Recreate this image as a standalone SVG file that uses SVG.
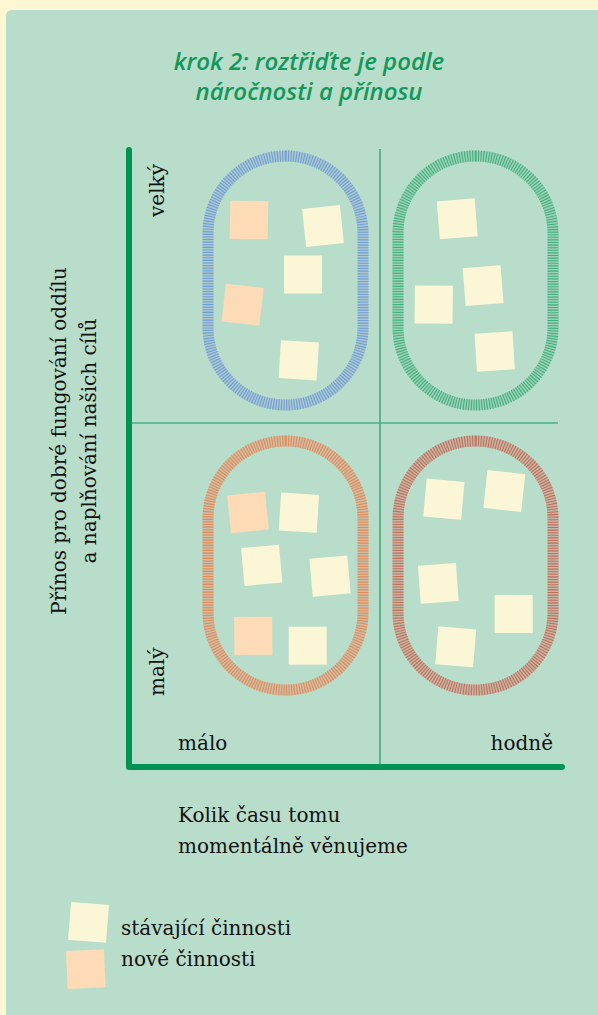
<svg xmlns="http://www.w3.org/2000/svg" width="598" height="1015" viewBox="0 0 598 1015">
<style>
.t{font-family:"DejaVu Serif","Liberation Serif",serif;font-size:20px;fill:#111}
.title{font-family:"Open Sans","Liberation Sans",sans-serif;font-style:italic;font-weight:600;font-size:24px;fill:#12985a;text-anchor:middle}
.c{fill:#fbf7d6}
.p{fill:#fddbb6}
.ring{fill:none;stroke-width:11}
.dash{fill:none;stroke-width:11;stroke-dasharray:1.1 1.5;opacity:0.7}
</style>
<defs>
<rect id="n" x="-19" y="-19" width="38" height="38"/>
</defs>
<rect x="0" y="0" width="598" height="1015" fill="#fdf8d3"/>
<path d="M6,16 Q6,10 12,10 H598 V1015 H6 Z" fill="#b9ddcb"/>
<g id="title">
<text class="title" x="309" y="70">krok 2: roztřiďte je podle</text>
<text class="title" x="309" y="100">náročnosti a přínosu</text>
</g>
<g id="connectors">
<line x1="380" y1="149" x2="380" y2="767" stroke="#2f9f6c" stroke-width="1.3"/>
<line x1="129" y1="423" x2="558" y2="423" stroke="#4bb183" stroke-width="1.6"/>
<path d="M129,150 V767 H562" fill="none" stroke="#009454" stroke-width="6" stroke-linecap="round" stroke-linejoin="round"/>
</g>
<g id="axis-labels">
<text class="t" transform="translate(66,441) rotate(-90)" text-anchor="middle">Přínos pro dobré fungování oddílu</text>
<text class="t" transform="translate(96,441) rotate(-90)" text-anchor="middle">a naplňování našich cílů</text>
<text class="t" transform="translate(164,217) rotate(-90)">velký</text>
<text class="t" transform="translate(164,696) rotate(-90)">malý</text>
<text class="t" x="178" y="750">málo</text>
<text class="t" x="553" y="750" text-anchor="end">hodně</text>
<text class="t" x="178" y="822">Kolik času tomu</text>
<text class="t" x="178" y="853">momentálně věnujeme</text>
</g>
<g id="q-top-left">
<rect class="ring" x="208" y="156" width="155" height="249" rx="77.5" stroke="#aac7d2"/>
<rect class="dash" x="208" y="156" width="155" height="249" rx="77.5" stroke="#5a8dd2"/>
<use href="#n" class="p" transform="translate(249,220) rotate(1)"/>
<use href="#n" class="c" transform="translate(323,226) rotate(-6)"/>
<use href="#n" class="c" transform="translate(303,274.5)"/>
<use href="#n" class="p" transform="translate(242.6,304.7) rotate(6.5)"/>
<use href="#n" class="c" transform="translate(298.8,360.3) rotate(3.5)"/>
</g>
<g id="q-top-right">
<rect class="ring" x="398" y="156" width="155" height="249" rx="77.5" stroke="#9bd2b7"/>
<rect class="dash" x="398" y="156" width="155" height="249" rx="77.5" stroke="#20a066"/>
<use href="#n" class="c" transform="translate(457.2,218.8) rotate(-4.6)"/>
<use href="#n" class="c" transform="translate(483.1,285.6) rotate(-4.6)"/>
<use href="#n" class="c" transform="translate(433.7,304.7) rotate(0.5)"/>
<use href="#n" class="c" transform="translate(494.7,351.5) rotate(-3.6)"/>
</g>
<g id="q-bottom-left">
<rect class="ring" x="208" y="441" width="155" height="249" rx="77.5" stroke="#d0bca4"/>
<rect class="dash" x="208" y="441" width="155" height="249" rx="77.5" stroke="#e5793a"/>
<use href="#n" class="p" transform="translate(248,512.5) rotate(-5.7)"/>
<use href="#n" class="c" transform="translate(298.9,512.7) rotate(3.6)"/>
<use href="#n" class="c" transform="translate(261.7,565.3) rotate(-5.1)"/>
<use href="#n" class="c" transform="translate(330,576.1) rotate(-5.1)"/>
<use href="#n" class="p" transform="translate(253.3,635.8) rotate(-0.5)"/>
<use href="#n" class="c" transform="translate(307.7,645.7)"/>
</g>
<g id="q-bottom-right">
<rect class="ring" x="398" y="441" width="155" height="249" rx="77.5" stroke="#c9b4a4"/>
<rect class="dash" x="398" y="441" width="155" height="249" rx="77.5" stroke="#b8553d"/>
<use href="#n" class="c" transform="translate(443.9,499.2) rotate(5.1)"/>
<use href="#n" class="c" transform="translate(504.3,491) rotate(6.2)"/>
<use href="#n" class="c" transform="translate(438.3,583.4) rotate(-4.1)"/>
<use href="#n" class="c" transform="translate(513.7,614)"/>
<use href="#n" class="c" transform="translate(455.7,646.8) rotate(4.7)"/>
</g>
<g id="legend">
<use href="#n" class="c" transform="translate(88.5,922.4) rotate(4.5)"/>
<use href="#n" class="p" transform="translate(85.8,969.1) rotate(-2.5)"/>
<text class="t" x="121" y="935">stávající činnosti</text>
<text class="t" x="121" y="966">nové činnosti</text>
</g>
</svg>
